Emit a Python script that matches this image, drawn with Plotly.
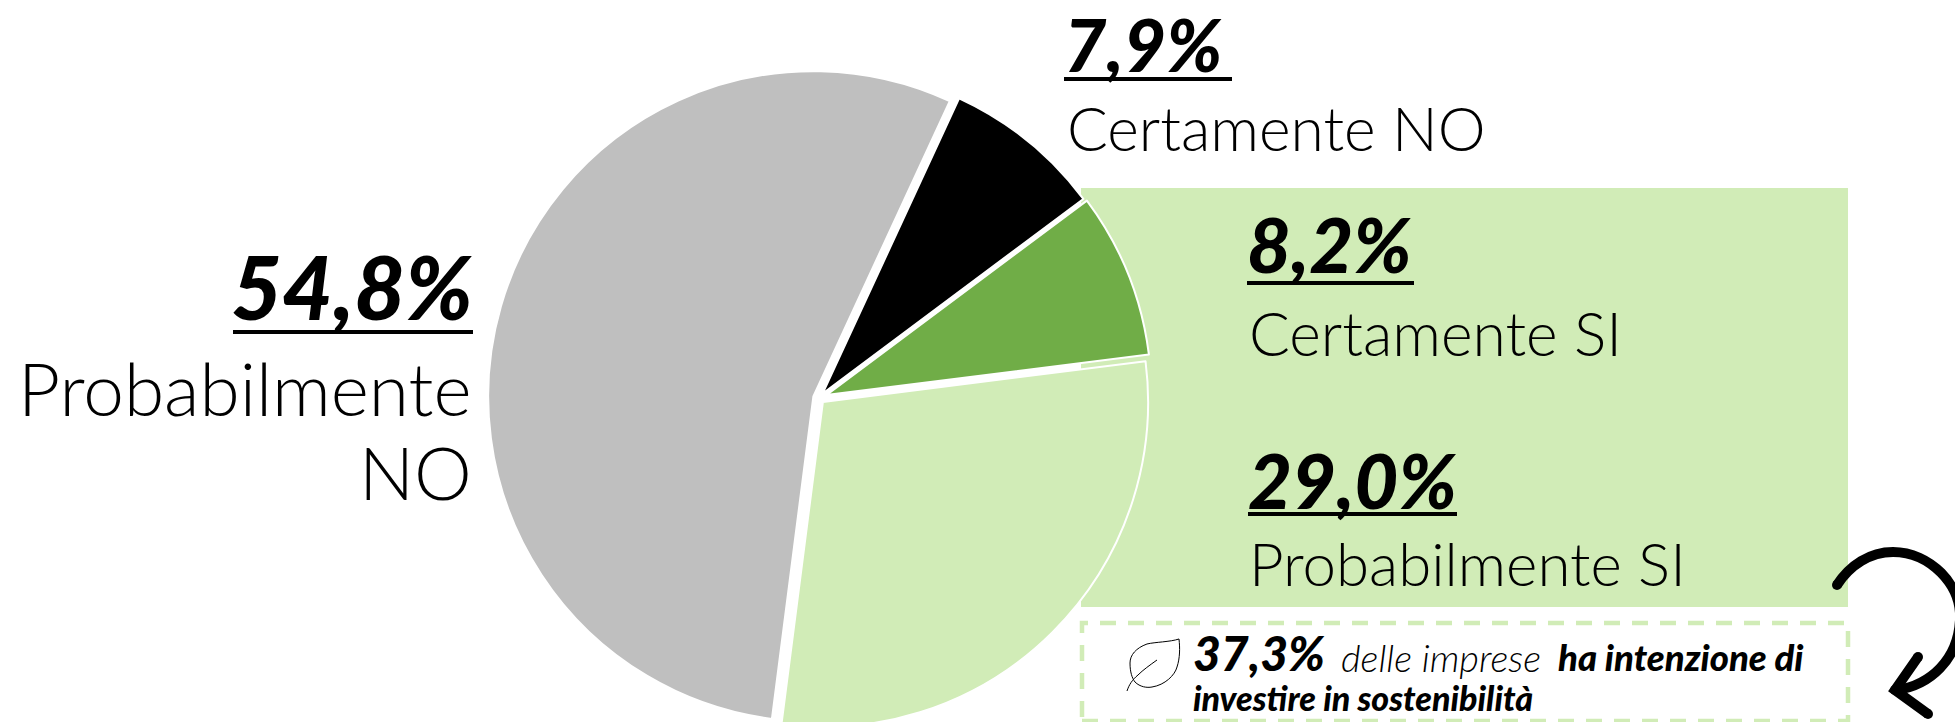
import plotly.graph_objects as go

# ---- data ----
categories = ["Certamente NO", "Certamente SI", "Probabilmente SI", "Probabilmente NO"]
values = [7.9, 8.2, 29.0, 54.8]
value_labels = ["7,9%", "8,2%", "29,0%", "54,8%"]
note_value = "37,3%"
note_plain = "delle imprese"
note_bold_1 = "ha intenzione di"
note_bold_2 = "investire in sostenibilità"
slice_colors = ["#000000", "#70AD47", "#D1ECB7", "#BFBFBF"]
slice_pulls = [0.018, 0.024, 0.017, 0.018]

W, H = 1955, 780   # page is taller than the window: the pie runs off the lower edge
LIGHT = "#D1ECB7"
FONT = "Lato"


def px(x):
    return x / W


def py(y):
    return 1 - y / H


def path(s):
    """Turn 'M x y L x y' in page pixels into paper coordinates."""
    out, is_x = [], True
    for tok in s.split():
        if tok.isalpha():
            out.append(tok)
        else:
            out.append(f"{px(float(tok)):.5f}" if is_x else f"{py(float(tok)):.5f}")
            is_x = not is_x
    return " ".join(out)


fig = go.Figure(
    go.Pie(
        labels=categories,
        values=values,
        sort=False,
        direction="clockwise",
        rotation=24.8,
        pull=slice_pulls,
        marker=dict(colors=slice_colors, line=dict(color="white", width=2)),
        textinfo="none",
        hoverinfo="label+percent",
        showlegend=False,
        domain=dict(x=[px(819 - 333), px(819 + 333)], y=[py(398 + 333), py(398 - 333)]),
    )
)


def label(x, base, text, size, anchor="left", weight=300, style="normal"):
    fig.add_annotation(
        xref="paper", yref="paper", x=px(x), y=py(base), text=text, showarrow=False,
        xanchor=anchor, yanchor="middle", borderpad=0, borderwidth=0,
        font=dict(family=FONT, size=size, color="black", weight=weight, style=style),
    )


# percentage + name labels (x, vertical centre of line)
label(473, 286, value_labels[3], 88, "right", 900, "italic")
label(472, 388, "Probabilmente", 73, "right")
label(472, 472, "NO", 73, "right")

label(1064, 44, value_labels[0], 73, "left", 900, "italic")
label(1067, 128, categories[0], 60.5, "left")

label(1247, 243, value_labels[1], 76, "left", 900, "italic")
label(1249, 332, categories[1], 60.5, "left")

label(1248, 479, value_labels[2], 76, "left", 900, "italic")
label(1249, 563, categories[2], 60, "left")

label(1193, 652, note_value, 48, "left", 900, "italic")
label(1341, 657, note_plain, 38, "left", 300, "italic")
label(1558, 657, note_bold_1, 36.5, "left", 900, "italic")
label(1193, 697, note_bold_2, 34, "left", 900, "italic")

underline_px = [(233, 473, 332), (1064, 1232, 79), (1247, 1414, 283), (1248, 1457, 514)]

shapes = [
    dict(type="rect", layer="below", xref="paper", yref="paper",
         x0=px(1081), x1=px(1848), y0=py(607), y1=py(188), fillcolor=LIGHT, line_width=0),
    dict(type="rect", layer="above", xref="paper", yref="paper",
         x0=px(1082), x1=px(1848), y0=py(721), y1=py(623), fillcolor="rgba(0,0,0,0)",
         line=dict(color=LIGHT, width=4.5, dash="16px,12px")),
    # leaf icon
    dict(type="path", xref="paper", yref="paper",
         path=path("M 1179 639 C 1170 642 1155 642 1147 644 C 1136 648 1130 655 1130 663 "
                   "C 1130 672 1132 678 1135 682 C 1140 687 1147 688 1152 687 "
                   "C 1165 685 1175 675 1177 667 C 1180 658 1180 648 1179 639 Z"),
         line=dict(color="black", width=1), fillcolor="rgba(0,0,0,0)"),
    dict(type="path", xref="paper", yref="paper",
         path=path("M 1157 660 C 1150 665 1143 670 1138 675 C 1132 680 1129 685 1127 691"),
         line=dict(color="black", width=1), fillcolor="rgba(0,0,0,0)"),
    # curved arrow
    dict(type="path", xref="paper", yref="paper",
         path=path("M 1837 585 C 1850 565 1870 552 1893 552 C 1930 552 1962 585 1960 620 "
                   "C 1958 660 1930 685 1897 690"),
         line=dict(color="black", width=10), fillcolor="rgba(0,0,0,0)"),
    dict(type="path", xref="paper", yref="paper",
         path=path("M 1918 657 L 1895 690 L 1928 714"),
         line=dict(color="black", width=10), fillcolor="rgba(0,0,0,0)"),
]
for cx, cy in [(1837, 585), (1918, 657), (1895, 690), (1928, 714)]:
    shapes.append(dict(type="circle", xref="paper", yref="paper",
                       x0=px(cx - 5), x1=px(cx + 5), y0=py(cy + 5), y1=py(cy - 5),
                       fillcolor="black", line_width=0))
for x0, x1, y in underline_px:
    shapes.append(dict(type="line", xref="paper", yref="paper",
                       x0=px(x0), x1=px(x1), y0=py(y), y1=py(y),
                       line=dict(color="black", width=4)))

fig.update_layout(
    width=W, height=H, margin=dict(l=0, r=0, t=0, b=0, pad=0),
    paper_bgcolor="white", plot_bgcolor="white", shapes=shapes,
)

fig.write_html(
    "out.html",
    config={"displayModeBar": False},
    post_script="document.documentElement.style.overflow='hidden';document.body.style.overflow='hidden';document.body.style.margin='0';",
)
